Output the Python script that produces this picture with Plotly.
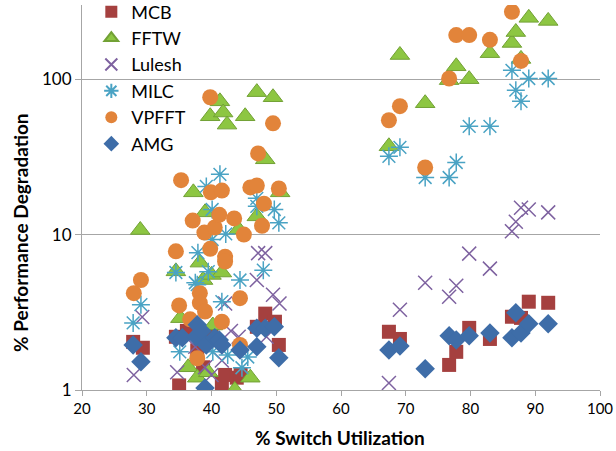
import plotly.graph_objects as go
import math

mcb_x = [27.9, 29.4, 34.5, 35.0, 36.2, 37.8, 38.7, 40.0, 41.6, 42.1, 43.9, 44.5, 47.0, 48.3, 49.8, 50.4,
         67.4, 69.1, 76.7, 77.8, 79.8, 83.0, 86.4, 87.8, 89.0, 92.0]
mcb_y = [2.04, 1.87, 2.2, 1.07, 2.4, 1.8, 1.4, 2.3, 1.1, 1.25, 1.2, 1.25, 2.55, 3.1, 2.75, 1.95,
         2.37, 2.13, 1.45, 1.76, 2.51, 2.13, 2.96, 2.91, 3.7, 3.64]

fftw_x = [29.0, 34.5, 35.2, 36.4, 37.2, 37.8, 38.2, 38.7, 39.0, 39.5, 39.8, 40.0, 40.2, 41.3, 41.6, 41.8,
          42.4, 43.6, 44.2, 45.2, 46.0, 47.0, 47.0, 48.3, 49.5, 50.6,
          67.4, 69.1, 73.0, 76.7, 77.8, 79.8, 83.0, 86.4, 87.0, 87.8, 89.0, 92.0]
fftw_y = [10.7, 5.8, 2.9, 1.4, 18.7, 1.2, 6.6, 5.1, 13.9, 1.3, 57.7, 5.5, 2.6, 72, 5.7, 61,
          51, 1.0, 10.8, 57.7, 1.2, 82.5, 13.1, 30.5, 76.5, 18.7,
          37, 143, 70, 98.6, 121, 100, 147, 171, 201, 135, 248, 237]

lulesh_x = [28.0, 29.3, 34.7, 37.5, 39.0, 40.0, 41.6, 42.1, 43.0, 44.2, 47.0, 47.2, 48.3, 48.5, 49.5, 50.5,
            67.4, 69.1, 73.0, 76.7, 77.8, 79.8, 83.0, 86.4, 87.0, 87.8, 89.0, 92.0]
lulesh_y = [1.25, 2.95, 1.3, 1.9, 1.4, 1.25, 1.55, 3.6, 2.4, 2.2, 5.1, 7.6, 7.6, 2.2, 4.1, 3.6,
            1.11, 3.28, 4.9, 3.98, 4.69, 7.54, 6.04, 10.5, 12.1, 14.9, 14.5, 13.9]

milc_x = [27.9, 29.1, 34.5, 35.1, 37.5, 37.8, 37.9, 39.2, 39.5, 40.1, 40.1, 40.2, 41.3, 41.6, 42.2, 42.5,
          44.4, 44.7, 45.6, 47.0, 47.0, 48.0, 49.7, 50.4,
          67.4, 69.1, 73.0, 76.7, 77.8, 79.8, 83.0, 86.4, 87.0, 87.8, 89.0, 92.0]
milc_y = [2.7, 3.54, 5.7, 1.76, 4.9, 4.76, 7.65, 20.4, 5.77, 14.5, 9.3, 1.76, 24.4, 3.7, 10.1, 1.68,
          5.1, 1.39, 1.63, 17.1, 15.2, 5.9, 14.5, 11.9,
          31.9, 36.4, 23.3, 23.3, 29.1, 49.7, 49.7, 114, 85, 72, 101, 101]

vpfft_x = [28.0, 29.1, 34.5, 35.0, 35.3, 36.7, 37.1, 37.8, 38.2, 38.2, 38.9, 39.0, 39.8, 39.8, 39.9, 40.5,
           41.2, 41.6, 41.6, 42.1, 42.1, 43.5, 44.4, 44.4, 45.0, 46.0, 47.0, 47.2, 47.8, 48.1, 49.5, 50.4,
           67.4, 69.1, 73.0, 76.7, 77.8, 79.8, 83.0, 86.4, 87.8]
vpfft_y = [4.2, 5.1, 7.8, 3.5, 22.4, 2.85, 12.3, 1.6, 4.2, 3.64, 10.3, 3.2, 8.1, 76.5, 18.7, 11.1,
           13.4, 19.2, 2.75, 7.2, 6.7, 12.7, 3.9, 1.95, 10.0, 20.1, 20.7, 33.3, 11.4, 15.8, 52, 19.8,
           54.4, 67, 27, 101, 192, 192, 179, 271, 131]

amg_x = [27.9, 29.1, 34.5, 35.5, 37.6, 37.8, 38.5, 39.0, 39.2, 40.5, 41.2, 41.6, 44.4, 47.0, 47.0, 48.3,
         49.7, 50.4, 67.4, 69.1, 73.0, 76.7, 77.8, 79.8, 83.0, 86.4, 87.0, 87.8, 89.0, 92.0]
amg_y = [1.95, 1.52, 2.17, 2.17, 2.2, 2.63, 2.4, 1.03, 1.95, 2.17, 2.1, 1.95, 1.81, 2.5, 1.9, 2.5,
         2.55, 1.61, 1.81, 1.92, 1.37, 2.23, 2.1, 2.23, 2.33, 2.17, 3.14, 2.33, 2.67, 2.67]

x_ticks = [20, 30, 40, 50, 60, 70, 80, 90, 100]
y_ticks = [1, 10, 100]

FONT = "Lato, 'Open Sans', sans-serif"

fig = go.Figure()
fig.add_trace(go.Scatter(x=mcb_x, y=mcb_y, mode="markers", name="MCB",
                         marker=dict(symbol="square", size=14, color="#A5403F")))
fig.add_trace(go.Scatter(x=fftw_x, y=fftw_y, mode="markers", name="FFTW",
                         marker=dict(symbol="triangle-up", size=17, color="#8DC642",
                                     line=dict(color="#72A135", width=1))))
fig.add_trace(go.Scatter(x=lulesh_x, y=lulesh_y, mode="markers", name="Lulesh",
                         marker=dict(symbol="x-thin-open", size=14, color="#7E62A0",
                                     line=dict(color="#7E62A0", width=1.5))))
fig.add_trace(go.Scatter(x=milc_x, y=milc_y, mode="markers", name="MILC",
                         marker=dict(symbol="asterisk-open", size=15, color="#4AA3C4",
                                     line=dict(color="#4AA3C4", width=1.5))))
fig.add_trace(go.Scatter(x=vpfft_x, y=vpfft_y, mode="markers", name="VPFFT",
                         marker=dict(symbol="circle", size=16, color="#E2843A")))
fig.add_trace(go.Scatter(x=amg_x, y=amg_y, mode="markers", name="AMG",
                         marker=dict(symbol="diamond", size=15, color="#3E6DA8")))

fig.update_layout(
    width=616, height=451,
    margin=dict(l=82, r=16, t=5, b=61, autoexpand=False),
    paper_bgcolor="white", plot_bgcolor="white",
    font=dict(family=FONT, size=15, color="black"),
    showlegend=True,
    legend=dict(x=0.018, y=1.03, xanchor="left", yanchor="top",
                font=dict(size=18, family=FONT), bgcolor="rgba(0,0,0,0)",
                itemsizing="constant", tracegroupgap=0),
    xaxis=dict(range=[20, 100], tickvals=x_ticks, ticktext=[str(v) for v in x_ticks],
               showgrid=False, zeroline=False, showline=True, linecolor="#A6A6A6", linewidth=1,
               ticks="outside", ticklen=5, tickcolor="#A6A6A6",
               tickfont=dict(size=15)),
    yaxis=dict(type="log", range=[0, math.log10(300)], tickvals=y_ticks,
               ticktext=[str(v) for v in y_ticks],
               showgrid=True, gridcolor="#A6A6A6", gridwidth=1, zeroline=False,
               showline=True, linecolor="#A6A6A6", linewidth=1,
               ticks="outside", ticklen=6, tickcolor="#A6A6A6",
               tickfont=dict(size=17)),
    annotations=[
        dict(text="<b>% Switch Utilization</b>", xref="paper", yref="paper",
             x=(340 - 82) / 518, y=(390 - 437) / 385, xanchor="center", yanchor="middle",
             showarrow=False, font=dict(size=19, family=FONT)),
        dict(text="<b>% Performance Degradation</b>", xref="paper", yref="paper",
             x=(20 - 82) / 518, y=(390 - 233) / 385, xanchor="center", yanchor="middle",
             textangle=-90, showarrow=False, font=dict(size=19, family=FONT)),
    ],
)

fig.write_html("out.html")
